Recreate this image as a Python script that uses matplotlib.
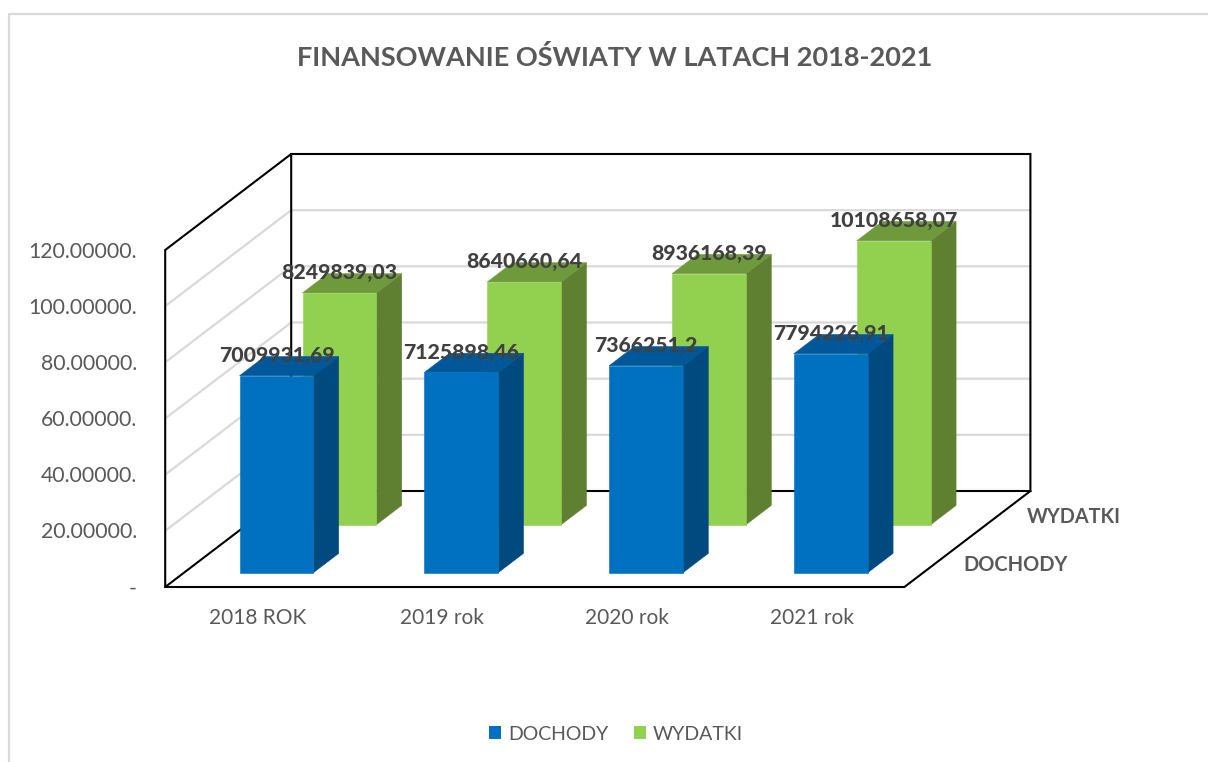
import matplotlib
matplotlib.use("Agg")
import matplotlib.pyplot as plt
from matplotlib.patches import Polygon, Patch

plt.rcParams['font.family'] = ['Lato', 'DejaVu Sans']

categories = ["2018 ROK", "2019 rok", "2020 rok", "2021 rok"]
dochody = [7009931.69, 7125898.46, 7366251.2, 7794226.91]
wydatki = [8249839.03, 8640660.64, 8936168.39, 10108658.07]
dochody_labels = ["7009931,69", "7125898,46", "7366251,2", "7794226,91"]
wydatki_labels = ["8249839,03", "8640660,64", "8936168,39", "10108658,07"]
y_ticks = [0, 2000000, 4000000, 6000000, 8000000, 10000000, 12000000]
y_tick_labels = ["-", "20.00000.", "40.00000.", "60.00000.", "80.00000.", "100.00000.", "120.00000."]
series_names = ["DOCHODY", "WYDATKI"]

# oblique projection of the 3D plot box, in figure pixels
X0, Y0 = 165.2, 587.0
SLOT = 184.8
HEIGHT = 337.0
VMAX = 12000000.0
DEPTH_X, DEPTH_Y = 126.0, 96.0


def project(cat, value, depth):
    return (X0 + cat * SLOT + depth * DEPTH_X,
            Y0 - value / VMAX * HEIGHT - depth * DEPTH_Y)


fig = plt.figure(figsize=(12.08, 7.62), dpi=100, facecolor="white")
ax = fig.add_axes([0, 0, 1, 1])
ax.set_xlim(0, 1208)
ax.set_ylim(762, 0)
ax.axis("off")

# outer chart frame
ax.plot([9, 9, 1208], [762, 14, 14], color="#D9D9D9", lw=1.6, zorder=1)

ncat = len(categories)
# gridlines
for v in y_ticks[1:-1]:
    pts = [project(0, v, 0), project(0, v, 1), project(ncat, v, 1)]
    ax.plot(*zip(*pts), color="#D9D9D9", lw=1.6, zorder=2, solid_joinstyle="miter")

# walls and floor outline
BLACK = "#000000"
outline = [
    [project(0, 0, 0), project(0, VMAX, 0), project(0, VMAX, 1),
     project(ncat, VMAX, 1), project(ncat, 0, 1), project(0, 0, 1), project(0, VMAX, 1)],
    [project(0, 0, 1), project(0, 0, 0), project(ncat, 0, 0), project(ncat, 0, 1)],
]
for seg in outline:
    ax.plot(*zip(*seg), color=BLACK, lw=1.5, zorder=3, solid_joinstyle="miter")


def bar3d(cat, depth_center, value, front, side, top, z):
    w = 0.2
    d = 0.1
    xl, xr = cat + 0.5 - w, cat + 0.5 + w
    d0, d1 = depth_center - d, depth_center + d
    ax.add_patch(Polygon([project(xr, 0, d0), project(xr, 0, d1),
                          project(xr, value, d1), project(xr, value, d0)],
                         closed=True, fc=side, ec=side, lw=0.4, zorder=z))
    ax.add_patch(Polygon([project(xl, value, d0), project(xr, value, d0),
                          project(xr, value, d1), project(xl, value, d1)],
                         closed=True, fc=top, ec=top, lw=0.4, zorder=z))
    ax.add_patch(Polygon([project(xl, 0, d0), project(xr, 0, d0),
                          project(xr, value, d0), project(xl, value, d0)],
                         closed=True, fc=front, ec=front, lw=0.4, zorder=z))


series = [
    (wydatki, wydatki_labels, 0.75, "#92D050", "#5F8030", "#6F9A3C", 4),
    (dochody, dochody_labels, 0.25, "#0070C0", "#004A80", "#00589A", 5),
]
for vals, labs, dc, f, s, t, z in series:
    for i, v in enumerate(vals):
        bar3d(i, dc, v, f, s, t, z)
for vals, labs, dc, f, s, t, z in series:
    for i, (v, lab) in enumerate(zip(vals, labs)):
        x, y = project(i + 0.5, v, dc - 0.1)
        ax.text(x, y - 20, lab, ha="center", va="center", fontsize=15.3,
                fontweight="black", color="#404040", zorder=8)

# axis labels
for v, lab in zip(y_ticks, y_tick_labels):
    _, y = project(0, v, 0)
    ax.text(137, y + 1.5, lab, ha="right", va="center", fontsize=15.3, color="#595959")
for i, lab in enumerate(categories):
    x, _ = project(i + 0.5, 0, 0)
    ax.text(x, 618.5, lab, ha="center", va="center", fontsize=15, color="#595959")
ax.text(963, 565, series_names[0], ha="left", va="center", fontsize=14.4,
        fontweight="bold", color="#595959")
ax.text(1027, 517, series_names[1], ha="left", va="center", fontsize=14.3,
        fontweight="bold", color="#595959")

ax.text(614.5, 57.5, "FINANSOWANIE OŚWIATY W LATACH 2018-2021", ha="center", va="center",
        fontsize=19.5, fontweight="bold", color="#595959")

handles = [Patch(fc="#0070C0", ec="none"), Patch(fc="#92D050", ec="none")]
ax.legend(handles, series_names, ncol=2, loc="center", bbox_to_anchor=(616, 734),
          bbox_transform=ax.transData, frameon=False, fontsize=14, labelcolor="#595959",
          handlelength=0.62, handleheight=0.62, handletextpad=0.36, columnspacing=1.29)

fig.savefig("out.png", dpi=100)
